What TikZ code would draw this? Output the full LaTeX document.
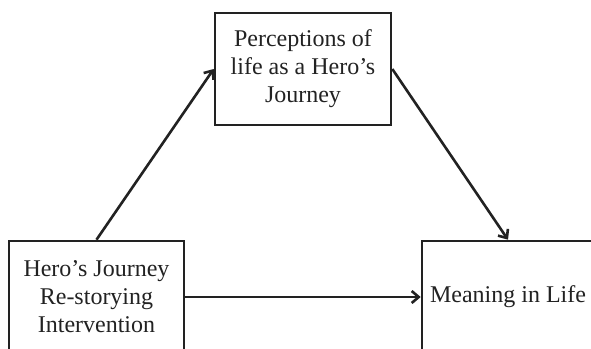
\documentclass[tikz,border=0pt]{standalone}
\usepackage{fontspec}
\setmainfont{Liberation Serif}
\usetikzlibrary{arrows.meta}
\definecolor{ink}{HTML}{222222}
\begin{document}
\begin{tikzpicture}[x=1pt,y=-1pt,
  box/.style={draw=ink, line width=2.6pt, rectangle, inner sep=0pt, align=center,
    text=ink, font=\fontsize{24}{28}\selectfont},
  link/.style={draw=ink, line width=2.6pt, -{Straight Barb[length=7pt,width=12pt,line width=2.6pt]}}]
\useasboundingbox (0,0) rectangle (591,348);
\clip (0,0) rectangle (591,348);
\node[box, minimum width=176pt, minimum height=112pt] (top) at (303,69)
  {Perceptions of\\life as a Hero’s\\Journey};
\node[box, minimum width=175pt, minimum height=112pt] (left) at (96.5,297)
  {Hero’s Journey\\Re-storying\\Intervention};
\node[box, minimum width=172pt, minimum height=112pt] (right) at (508,297)
  {Meaning in Life};
\draw[link] (left.north) -- (top.west);
\draw[link] (top.east) -- (right.north);
\draw[link] (left.east) -- (right.west);
\end{tikzpicture}
\end{document}
